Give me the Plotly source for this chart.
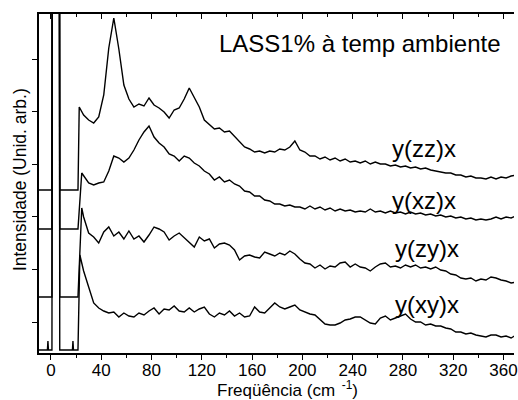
import plotly.graph_objects as go

# Raman shift grid (cm^-1) for the measured part of each spectrum
FREQ = list(range(26, 371, 4))

# Intensities (arbitrary units)
ZZ = [238, 233, 230, 236, 258, 305, 335, 304, 268, 254,
      246, 249, 247, 255, 248, 245, 241, 235, 243, 245,
      254, 265, 256, 246, 233, 228, 224, 225, 221, 222,
      217, 212, 206, 204, 201, 202, 200, 202, 201, 204,
      203, 206, 212, 203, 201, 197, 197, 194, 196, 193,
      195, 192, 194, 191, 192, 190, 192, 189, 191, 189,
      189, 187, 188, 186, 187, 185, 186, 184, 185, 183,
      182, 181, 180, 180, 178, 178, 176, 177, 175, 175,
      174, 176, 174, 176, 175, 177, 178]
XZ = [177, 170, 168, 170, 171, 182, 197, 195, 191, 195,
      203, 213, 221, 227, 216, 210, 206, 199, 197, 192,
      197, 195, 190, 187, 182, 179, 173, 176, 171, 173,
      169, 167, 162, 161, 157, 157, 153, 152, 149, 149,
      147, 148, 146, 146, 144, 147, 144, 146, 143, 145,
      142, 144, 142, 143, 141, 142, 141, 144, 141, 142,
      140, 142, 140, 141, 139, 141, 139, 140, 138, 139,
      137, 138, 136, 137, 135, 136, 134, 135, 133, 134,
      133, 134, 136, 134, 136, 135, 137]
ZY = [136, 120, 116, 110, 121, 126, 117, 121, 114, 122,
      114, 117, 111, 118, 126, 124, 121, 113, 117, 120,
      115, 111, 106, 116, 112, 114, 105, 109, 110, 108,
      103, 93, 97, 98, 96, 95, 101, 99, 97, 100,
      98, 102, 99, 94, 90, 89, 85, 88, 84, 87,
      86, 90, 91, 86, 89, 86, 85, 82, 86, 89,
      90, 86, 87, 85, 88, 86, 88, 85, 86, 84,
      86, 83, 82, 79, 78, 75, 74, 75, 72, 74,
      73, 76, 75, 73, 72, 70, 71]
XY = [82, 66, 50, 45, 42, 40, 41, 36, 40, 37,
      36, 40, 38, 42, 45, 39, 44, 43, 47, 42,
      41, 45, 41, 44, 46, 39, 36, 40, 38, 42,
      37, 40, 36, 37, 46, 41, 40, 45, 50, 46,
      44, 46, 48, 43, 41, 39, 38, 33, 29, 28,
      28, 30, 33, 34, 36, 36, 33, 30, 29, 35,
      37, 33, 35, 37, 39, 34, 31, 31, 28, 29,
      27, 27, 25, 24, 21, 21, 19, 20, 18, 17,
      16, 18, 18, 16, 17, 15, 18]

# Low-frequency region: notch-filtered baseline with the (off-scale) laser line
ZZ_LOW_X = [-10, 0.8, 1.6, 6.3, 7.0, 21.5, 22.5]
ZZ_LOW_Y = [163, 163, 1000, 1000, 163, 163, 246]
XZ_LOW_X = [-10, 0.8, 1.6, 6.3, 7.0, 21.5, 24.5]
XZ_LOW_Y = [124, 124, 1000, 1000, 124, 124, 180]
ZY_LOW_X = [-10, 0.8, 1.6, 6.3, 7.0, 21.5, 24.5]
ZY_LOW_Y = [56, 56, 1000, 1000, 56, 56, 145]
XY_LOW_X = [-10, -2.8, -2.4, -2.0, 0.8, 1.6, 6.3, 7.0, 17.1, 17.5, 17.9, 21.5, 23.0]
XY_LOW_Y = [3, 3, 12, 3, 3, 1000, 1000, 3, 3, 12, 3, 3, 98]

SERIES = [
    ("y(zz)x", ZZ_LOW_X, ZZ_LOW_Y, ZZ),
    ("y(xz)x", XZ_LOW_X, XZ_LOW_Y, XZ),
    ("y(zy)x", ZY_LOW_X, ZY_LOW_Y, ZY),
    ("y(xy)x", XY_LOW_X, XY_LOW_Y, XY),
]

LABEL_POS = {"y(zz)x": (297, 205), "y(xz)x": (297, 153),
             "y(zy)x": (299, 105), "y(xy)x": (299, 49)}

XRANGE = [-9.5, 368.3]
YRANGE = [0, 339]
FONT = "Arial, Liberation Sans, sans-serif"

fig = go.Figure()
for name, lx, ly, vals in SERIES:
    fig.add_trace(go.Scatter(x=lx + FREQ, y=ly + vals, mode="lines",
                             line=dict(color="black", width=1.4),
                             name=name, showlegend=False, hoverinfo="skip"))

# helper trace so the top axis is drawn
fig.add_trace(go.Scatter(x=[100], y=[100], xaxis="x2", mode="markers",
                         marker=dict(opacity=0), showlegend=False, hoverinfo="skip"))

annots = [dict(text="LASS1% à temp ambiente", x=246, y=310, xref="x", yref="y",
               showarrow=False, font=dict(size=24, family=FONT, color="black"))]
for name, (lx, ly) in LABEL_POS.items():
    annots.append(dict(text=name, x=lx, y=ly, xref="x", yref="y", showarrow=False,
                       font=dict(size=24, family=FONT, color="black")))
annots.append(dict(text="Freqüência (cm<sup>  -1</sup>)", x=188.5, y=-0.107,
                   xref="x", yref="paper", showarrow=False, yanchor="middle",
                   font=dict(size=17, family=FONT, color="black")))
annots.append(dict(text="Intensidade (Unid. arb.)", x=-0.040, y=0.51,
                   xref="paper", yref="paper", showarrow=False, textangle=-90,
                   xanchor="center", yanchor="middle",
                   font=dict(size=17.5, family=FONT, color="black")))

fig.update_layout(
    width=518, height=400,
    margin=dict(l=39, r=0, t=14, b=47),
    paper_bgcolor="white", plot_bgcolor="white",
    font=dict(family=FONT, color="black"),
    annotations=annots,
    xaxis=dict(range=XRANGE, tickvals=list(range(0, 361, 40)),
               ticks="outside", ticklen=5, tickwidth=1.2, tickcolor="black",
               minor=dict(dtick=20, tick0=0, ticks="outside", ticklen=3,
                          tickwidth=1, tickcolor="black"),
               showline=True, linewidth=1.5, linecolor="black",
               showgrid=False, zeroline=False, ticklabeloverflow="allow",
               ticklabelstandoff=-4,
               tickfont=dict(size=17, family=FONT, color="black")),
    xaxis2=dict(range=XRANGE, overlaying="x", side="top", anchor="y",
                tickvals=list(range(0, 361, 40)), ticks="inside", ticklen=5,
                tickwidth=1.2, tickcolor="black",
                minor=dict(dtick=20, tick0=0, ticks="inside", ticklen=3,
                           tickwidth=1, tickcolor="black"),
                showticklabels=False, showline=True, linewidth=1.5,
                linecolor="black", showgrid=False, zeroline=False),
    yaxis=dict(range=YRANGE, tick0=31, dtick=52.6, ticks="outside", ticklen=5,
               tickwidth=1.2, tickcolor="black", showticklabels=False,
               showline=True, linewidth=1.5, linecolor="black",
               showgrid=False, zeroline=False),
)

fig.write_html("out.html")
